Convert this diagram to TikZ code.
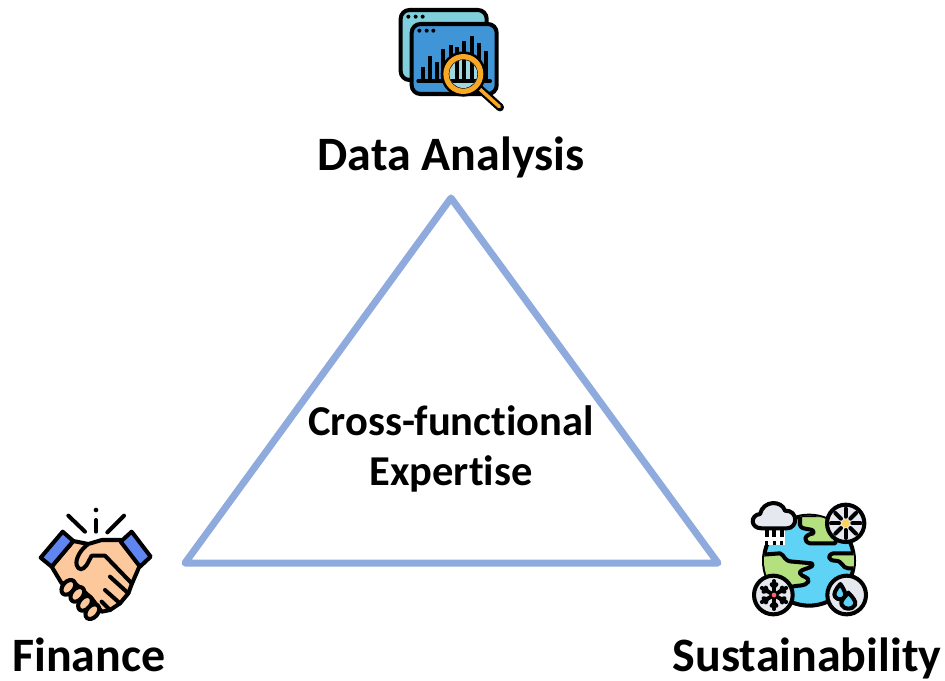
\documentclass[tikz,border=0pt]{standalone}
\usepackage{fontspec}
\setmainfont[Ligatures=NoCommon]{Carlito}
\usetikzlibrary{calc}
\definecolor{edgeblue}{RGB}{143,170,220}
\definecolor{backpane}{RGB}{127,207,220}
\definecolor{frontpane}{RGB}{63,149,214}
\definecolor{lensring}{RGB}{249,168,37}
\definecolor{lensglass}{RGB}{160,216,224}
\definecolor{cuffblue}{RGB}{95,134,240}
\definecolor{skin}{RGB}{253,200,155}
\definecolor{oceanblue}{RGB}{95,211,245}
\definecolor{landgreen}{RGB}{181,224,127}
\definecolor{cloudgrey}{RGB}{229,232,238}
\definecolor{sunyellow}{RGB}{251,210,94}
\tikzset{
    iconline/.style={draw=black, line width=2.3pt, line join=round, line cap=round},
    heading/.style={font=\fontsize{27.3}{32}\selectfont\bfseries, align=center, inner sep=0pt, anchor=base},
    triangleedge/.style={draw=edgeblue, line width=4pt, line join=round, line cap=round}
}
\begin{document}
\begin{tikzpicture}[x=0.02cm, y=-0.02cm]
    \useasboundingbox (0,0) rectangle (945,680);
    % Triangle corners
    \coordinate (top) at (451,198);
    \coordinate (right) at (718,563);
    \coordinate (left) at (185,563);
    \draw[triangleedge] (top) -- (right) -- (left) -- cycle;

    % Labels
    \node[heading] (datalabel) at (451,170) {Data Analysis};
    \node[heading] (financelabel) at (89,671) {Finance};
    \node[heading] (sustainlabel) at (807,671) {Sustainability};
    \node[heading, anchor=center, font=\fontsize{24.2}{28.4}\selectfont\bfseries] (centerlabel) at (451,449) {Cross-functional\\Expertise};

    % Data analysis icon
    \begin{scope}[shift={(380,0)}, scale=1/3]
        \draw[iconline, fill=backpane, rounded corners=5pt] (62,30) rectangle (320,240);
        \draw[iconline, fill=frontpane, rounded corners=5pt] (95,72) rectangle (350,282);
        \foreach \px in {85,107,128} \fill (\px,50) circle (6);
        \foreach \px in {118,140,160} \fill (\px,92) circle (6);
        \foreach \px/\py in {128/200,150/168,170/185,190/148,212/135,232/140,253/122,275/108,297/130,318/152}
            \draw[black, line width=2.3pt] (\px,243) -- (\px,\py);
        \draw[iconline] (115,243) -- (330,243);
        \draw[line width=4.6pt, line cap=round, black] (292,260) -- (360,322);
        \draw[line width=2pt, line cap=round, lensring] (297,265) -- (358,320);
        \draw[line width=6pt, black] (250,222) circle (52);
        \draw[line width=3pt, lensring] (250,222) circle (52);
        \begin{scope}
            \clip (250,222) circle (42);
            \fill[lensglass] (200,170) rectangle (300,280);
            \foreach \px in {232,253,275} \draw[black, line width=2.3pt] (\px,243) -- (\px,170);
            \draw[black, line width=2.3pt] (200,243) -- (300,243);
        \end{scope}
    \end{scope}

    % Finance icon
    \begin{scope}[shift={(20,495)}, scale=1/3]
        \draw[iconline] (145,62) -- (195,110);
        \draw[iconline] (228,75) -- (228,110);
        \fill (228,45) circle (7);
        \draw[iconline] (312,62) -- (262,112);
        \draw[iconline, fill=skin] (160,138) -- (205,147) -- (245,135) -- (302,135) -- (360,210) -- (335,268) -- (325,295) -- (300,325) -- (270,345) -- (245,350) -- (215,310) -- (165,265) -- (125,265) -- (95,215) -- cycle;
        \foreach \ex/\ey in {145/277,172/298,195/325,217/350}
            \draw[iconline, fill=skin] (\ex,\ey) ellipse [x radius=17, y radius=25, rotate=-40];
        \draw[iconline, fill=cuffblue] (128,110) -- (160,138) -- (95,215) -- (62,188) -- cycle;
        \draw[iconline, fill=cuffblue] (335,110) -- (392,185) -- (360,215) -- (302,140) -- cycle;
        \draw[iconline, fill=skin] (205,147) .. controls (185,160) and (165,190) .. (170,210) .. controls (175,228) and (190,225) .. (200,210) -- (215,182) -- (255,182) -- (335,265);
        \draw[iconline] (270,245) -- (325,295);
        \draw[iconline] (255,285) -- (300,325);
        \draw[iconline] (245,320) -- (270,345);
    \end{scope}

    % Sustainability icon
    \begin{scope}[shift={(735,490)}, scale=1/3]
        \draw[iconline, fill=oceanblue] (222,212) circle (135);
        \begin{scope}
            \clip (222,212) circle (135);
            \draw[iconline, fill=landgreen] (195,75) -- (195,105) .. controls (200,125) and (240,110) .. (235,130) .. controls (205,135) and (205,155) .. (225,160) -- (300,160) -- (330,75) -- cycle;
            \draw[iconline, fill=landgreen] (70,195) -- (135,190) .. controls (150,195) and (145,215) .. (175,215) -- (230,220) .. controls (245,235) and (190,235) .. (195,250) .. controls (200,262) and (225,260) .. (220,275) .. controls (210,290) and (190,285) .. (170,290) -- (80,290) -- cycle;
            \draw[iconline, fill=landgreen] (370,190) -- (295,190) .. controls (275,195) and (280,212) .. (300,212) .. controls (325,212) and (320,235) .. (340,235) -- (370,235) -- cycle;
        \end{scope}
        \fill[white] (85,120) rectangle (150,165);
        \draw[iconline, fill=cloudgrey] (80,115) .. controls (45,115) and (45,75) .. (75,72) .. controls (85,30) and (140,30) .. (150,62) .. controls (190,60) and (190,115) .. (155,115) -- cycle;
        \foreach \px in {95,118,140} {
            \draw[black, line width=2.3pt] (\px,120) -- (\px,140);
            \draw[black, line width=2.3pt] (\px-5,158) -- (\px+5,158);
        }
        \draw[iconline, fill=cloudgrey] (332,100) circle (56);
        \foreach \ang in {0,45,...,315}
            \draw[iconline] ($(332,100)+(\ang:20)$) -- ++(\ang:24);
        \fill[sunyellow] (332,100) circle (12);
        \draw[iconline, fill=cloudgrey] (115,315) circle (58);
        \foreach \ang in {30,90,...,330} {
            \draw[iconline] ($(117,315)+(\ang:8)$) -- ++(\ang:34);
            \draw[iconline] ($(117,315)+(\ang:25)$) -- ++(\ang+45:10);
            \draw[iconline] ($(117,315)+(\ang:25)$) -- ++(\ang-45:10);
        }
        \fill[red!60!white] (117,315) circle (7);
        \draw[iconline, fill=cloudgrey] (335,315) circle (58);
        \draw[iconline, fill=oceanblue] (316,282) .. controls (300,300) and (295,312) .. (300,320) .. controls (308,332) and (326,330) .. (330,318) .. controls (333,308) and (325,295) .. (316,282) -- cycle;
        \draw[iconline, fill=oceanblue] (340,308) .. controls (325,325) and (315,335) .. (320,345) .. controls (328,360) and (352,360) .. (360,345) .. controls (365,335) and (352,320) .. (340,308) -- cycle;
    \end{scope}
\end{tikzpicture}
\end{document}
